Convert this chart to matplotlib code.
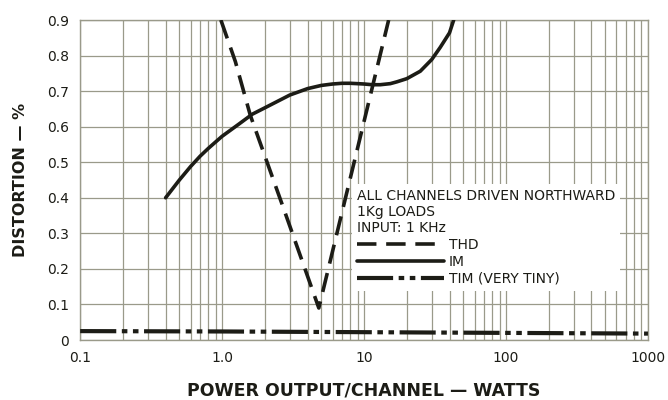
import matplotlib
matplotlib.use("Agg")
import matplotlib.pyplot as plt
from matplotlib.ticker import LogLocator, FixedLocator, NullFormatter

# power output per channel (W) and distortion (%)
thd_watts = [0.98, 1.24, 1.58, 2.65, 4.8, 10.8, 14.9]
thd_pct = [0.90, 0.783, 0.632, 0.381, 0.09, 0.67, 0.90]

im_watts = [0.4, 0.5, 0.6, 0.7, 0.8, 0.9, 1.0, 1.31, 1.63, 2.0, 3.0, 4.0, 5.0, 6.0,
            7.0, 8.0, 10.0, 11.4, 13.0, 15.3, 17.0, 20.0, 24.9, 30.0, 34.4, 40.0, 42.8]
im_pct = [0.40, 0.450, 0.488, 0.517, 0.539, 0.557, 0.573, 0.607, 0.635, 0.653, 0.689,
          0.707, 0.716, 0.720, 0.722, 0.722, 0.720, 0.718, 0.718, 0.721, 0.726, 0.735,
          0.756, 0.789, 0.823, 0.864, 0.90]

tim_watts = [0.1, 1.0, 10.0, 100.0, 1000.0]
tim_pct = [0.025, 0.024, 0.022, 0.020, 0.018]

x_ticks = [0.1, 1.0, 10, 100, 1000]
x_tick_labels = ["0.1", "1.0", "10", "100", "1000"]
y_ticks = [0, 0.1, 0.2, 0.3, 0.4, 0.5, 0.6, 0.7, 0.8, 0.9]
y_tick_labels = ["0", "0.1", "0.2", "0.3", "0.4", "0.5", "0.6", "0.7", "0.8", "0.9"]

ink = "#1c1c16"
grid_col = "#9a9a8a"

plt.rcParams["font.family"] = ["DejaVu Sans"]
plt.rcParams["lines.scale_dashes"] = False

fig = plt.figure(figsize=(6.68, 4.0), dpi=100)
ax = fig.add_axes([0.12, 0.15, 0.85, 0.80])

ax.plot(thd_watts, thd_pct, color=ink, lw=2.6, dashes=(14, 7), label="THD", zorder=4)
ax.plot(im_watts, im_pct, color=ink, lw=2.6, label="IM", zorder=4,
        solid_joinstyle="round", solid_capstyle="round")
ax.plot(tim_watts, tim_pct, color=ink, lw=3.0, dashes=(26, 4, 4, 4, 4, 4),
        label="TIM (VERY TINY)", zorder=4)

ax.set_xscale("log")
ax.set_xlim(0.1, 1000)
ax.set_ylim(0, 0.9)

ax.xaxis.set_major_locator(FixedLocator(x_ticks))
ax.set_xticklabels(x_tick_labels)
ax.xaxis.set_minor_locator(LogLocator(base=10, subs=range(2, 10)))
ax.xaxis.set_minor_formatter(NullFormatter())
ax.set_yticks(y_ticks)
ax.set_yticklabels(y_tick_labels)

ax.grid(True, which="both", axis="x", color=grid_col, lw=0.9)
ax.grid(True, which="major", axis="y", color=grid_col, lw=0.9)
ax.tick_params(which="both", length=0, labelsize=10, colors=ink, pad=8)
for s in ax.spines.values():
    s.set_color(grid_col)
    s.set_linewidth(1.0)

ax.set_xlabel("POWER OUTPUT/CHANNEL — WATTS", fontsize=12.5, color=ink,
              fontweight="bold", labelpad=12)
ax.set_ylabel("DISTORTION — %", fontsize=11.5, color=ink, fontweight="bold", labelpad=14)

leg = ax.legend(loc="upper left", bbox_to_anchor=(0.479, 0.487),
                title="ALL CHANNELS DRIVEN NORTHWARD\n1Kg LOADS\nINPUT: 1 KHz",
                alignment="left", fontsize=10, title_fontsize=10,
                handlelength=6.3, handletextpad=0.3, labelspacing=0.2,
                borderpad=0.35, borderaxespad=0, frameon=True, fancybox=False)
leg.get_frame().set_facecolor("white")
leg.get_frame().set_edgecolor("none")
leg.get_frame().set_alpha(1.0)
leg.set_zorder(3)
for t in leg.get_texts():
    t.set_color(ink)
leg.get_title().set_color(ink)
leg.get_title().set_linespacing(1.2)

fig.savefig("out.png", dpi=100)
